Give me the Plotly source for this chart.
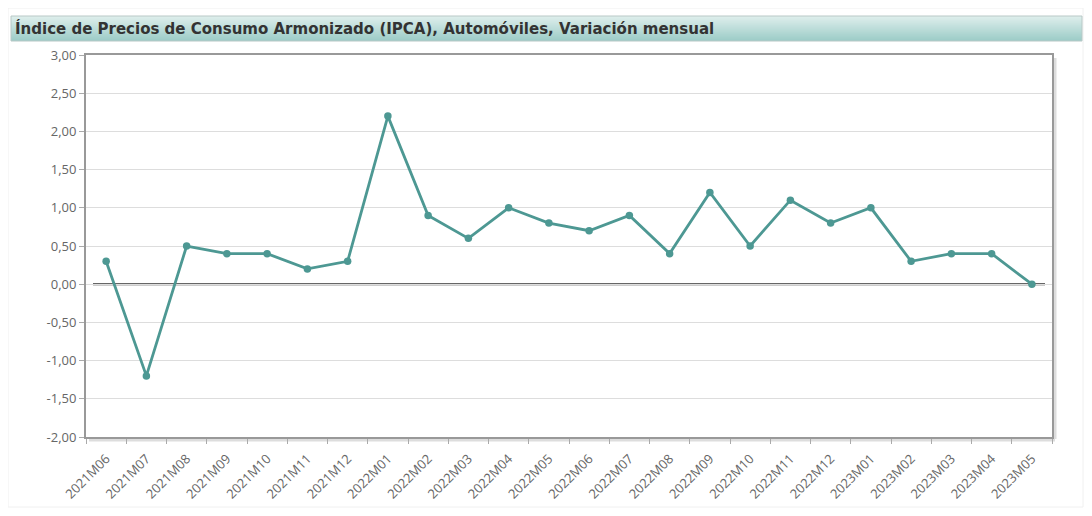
import plotly.graph_objects as go

categories = ["2021M06","2021M07","2021M08","2021M09","2021M10","2021M11","2021M12",
              "2022M01","2022M02","2022M03","2022M04","2022M05","2022M06","2022M07",
              "2022M08","2022M09","2022M10","2022M11","2022M12","2023M01","2023M02",
              "2023M03","2023M04","2023M05"]
values = [0.3, -1.2, 0.5, 0.4, 0.4, 0.2, 0.3, 2.2, 0.9, 0.6, 1.0, 0.8, 0.7, 0.9,
          0.4, 1.2, 0.5, 1.1, 0.8, 1.0, 0.3, 0.4, 0.4, 0.0]
y_ticks = [3.0, 2.5, 2.0, 1.5, 1.0, 0.5, 0.0, -0.5, -1.0, -1.5, -2.0]
y_tick_labels = [f"{v:.2f}".replace(".", ",") for v in y_ticks]
title_text = "Índice de Precios de Consumo Armonizado (IPCA), Automóviles, Variación mensual"

OFF = 8  # page body margin
W, H = 1092 - 2 * OFF, 516 - 2 * OFF
L, R, T, B = 86 - OFF, 1052 - OFF, 55 - OFF, 437 - OFF
pw, ph = R - L, B - T

def px(x):
    return (x - OFF - L) / pw

def py(y):
    return (B - (y - OFF)) / ph

teal = "#4d9893"

fig = go.Figure()
fig.add_trace(go.Scatter(
    x=categories, y=values, mode="lines+markers",
    line=dict(color=teal, width=2.8),
    marker=dict(color=teal, size=7.5),
    hoverinfo="x+y", showlegend=False,
))

shapes = []
shapes.append(dict(type="rect", xref="paper", yref="paper",
                   x0=px(8), x1=px(1083), y0=py(507), y1=py(8),
                   line=dict(color="#f0f0f0", width=1), fillcolor="rgba(0,0,0,0)", layer="below"))
top_c = (222, 238, 236)
bot_c = (156, 204, 199)
y_top, y_bot = 16, 41
n = 25
for i in range(n):
    f = i / (n - 1)
    c = tuple(int(round(top_c[k] + (bot_c[k] - top_c[k]) * f)) for k in range(3))
    y0 = y_top + (y_bot - y_top) * i / n
    y1 = y_top + (y_bot - y_top) * (i + 1) / n
    shapes.append(dict(type="rect", xref="paper", yref="paper",
                       x0=px(11), x1=px(1082), y0=py(y1), y1=py(y0),
                       line=dict(width=0), fillcolor=f"rgb{c}", layer="below"))
shapes.append(dict(type="rect", xref="paper", yref="paper",
                   x0=px(11), x1=px(1082), y0=py(y_bot), y1=py(y_top),
                   line=dict(color="#b8c8c6", width=1), fillcolor="rgba(0,0,0,0)", layer="below"))
shapes.append(dict(type="line", xref="paper", yref="paper",
                   x0=px(1055), x1=px(1055), y0=py(439), y1=py(58),
                   line=dict(color="#dddddd", width=3), layer="below"))
shapes.append(dict(type="line", xref="paper", yref="paper",
                   x0=px(89), x1=px(1055), y0=py(440), y1=py(440),
                   line=dict(color="#dddddd", width=3), layer="below"))
shapes.append(dict(type="line", xref="paper", yref="y",
                   x0=px(93), x1=px(1045), y0=0, y1=0,
                   line=dict(color="#333333", width=2), layer="between"))

fig.update_layout(
    width=W, height=H,
    margin=dict(l=L, r=W - R, t=T, b=H - B, autoexpand=False),
    paper_bgcolor="white", plot_bgcolor="white",
    shapes=shapes,
    annotations=[dict(text=f"<b>{title_text}</b>", xref="paper", yref="paper",
                      x=px(13), y=py(29), xanchor="left", yanchor="middle",
                      showarrow=False,
                      font=dict(family="DejaVu Sans, sans-serif", size=15, color="#333333"))],
    font=dict(family="Open Sans, sans-serif", size=13, color="#666666"),
)
fig.update_xaxes(
    type="category", range=[-0.5, len(categories) - 0.5], automargin=False,
    tickangle=-45, tickson="boundaries", ticks="outside", ticklen=5, tickcolor="#aaaaaa",
    ticklabelstandoff=7,
    showline=True, linecolor="#999999", linewidth=2, mirror=True,
    showgrid=False, zeroline=False,
    tickfont=dict(family="Open Sans, sans-serif", size=13, color="#666666"),
)
fig.update_yaxes(
    range=[-2.0, 3.0], tickvals=y_ticks, ticktext=y_tick_labels, automargin=False,
    ticks="outside", ticklen=5, tickcolor="#aaaaaa",
    showline=True, linecolor="#999999", linewidth=2, mirror=True,
    showgrid=True, gridcolor="#dddddd", gridwidth=1, zeroline=False,
    tickfont=dict(family="Open Sans, sans-serif", size=13, color="#666666"),
)

fig.write_html("out.html")
